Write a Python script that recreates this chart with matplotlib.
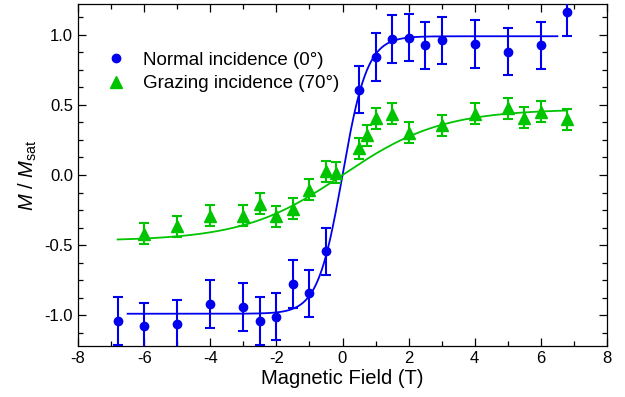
import numpy as np
import matplotlib
matplotlib.use("Agg")
import matplotlib.pyplot as plt
from matplotlib.ticker import MultipleLocator


# -----------------------------
# DATA
# -----------------------------
normal_field = [-6.8, -6, -5, -4, -3, -2.5, -2, -1.5, -1, -0.5,
                0.5, 1, 1.5, 2, 2.5, 3, 4, 5, 6, 6.8]
normal_m = [-1.04, -1.08, -1.065, -0.92, -0.94, -1.04, -1.01, -0.78, -0.845, -0.545,
            0.61, 0.84, 0.97, 0.98, 0.925, 0.96, 0.935, 0.88, 0.925, 1.165]
normal_err = [0.17] * len(normal_field)

grazing_field = [-6, -5, -4, -3, -2.5, -2, -1.5, -1, -0.5, -0.2,
                 0.5, 0.75, 1, 1.5, 2, 3, 4, 5, 5.5, 6, 6.8]
grazing_m = [-0.42, -0.365, -0.29, -0.29, -0.205, -0.295, -0.24, -0.105, 0.025, 0.015,
             0.19, 0.282, 0.405, 0.436, 0.30, 0.356, 0.436, 0.477, 0.41, 0.453, 0.398]
grazing_err = [0.075] * len(grazing_field)

# fit parameters (saturation, width) for the tanh model curves
normal_fit = (0.99, 0.75)
grazing_fit = (0.47, 3.0)
normal_fit_range = (-6.5, 6.5)
grazing_fit_range = (-6.8, 6.8)


# -----------------------------
# STYLE
# -----------------------------
plt.rcParams["font.family"] = ["Liberation Sans", "DejaVu Sans"]
plt.rcParams["mathtext.fontset"] = "custom"
plt.rcParams["mathtext.rm"] = "Liberation Sans"
plt.rcParams["mathtext.it"] = "Liberation Sans:italic"
plt.rcParams["axes.unicode_minus"] = False

blue = "#0000ee"
green = "#00c400"


# -----------------------------
# PLOT
# -----------------------------
fig = plt.figure(figsize=(6.25, 3.97), dpi=100)
ax = fig.add_axes([0.1248, 0.1285, 0.8464, 0.8614])

for rng, (a, w), col in [(normal_fit_range, normal_fit, blue),
                         (grazing_fit_range, grazing_fit, green)]:
    h = np.linspace(rng[0], rng[1], 400)
    ax.plot(h, a * np.tanh(h / w), color=col, lw=1.3, zorder=2)

ax.errorbar(normal_field, normal_m, yerr=normal_err, fmt="none",
            ecolor=blue, elinewidth=1.5, capsize=3.6, capthick=1.5, zorder=3)
ax.errorbar(grazing_field, grazing_m, yerr=grazing_err, fmt="none",
            ecolor=green, elinewidth=1.5, capsize=3.6, capthick=1.5, zorder=3)

ax.plot(normal_field, normal_m, "o", color=blue, ms=6, ls="none",
        label="Normal incidence (0°)", zorder=4)
ax.plot(grazing_field, grazing_m, "^", color=green, ms=8, ls="none",
        label="Grazing incidence (70°)", zorder=4)

ax.set_xlim(-8, 8)
ax.set_ylim(-1.22, 1.22)
ax.xaxis.set_major_locator(MultipleLocator(2))
ax.xaxis.set_minor_locator(MultipleLocator(1))
ax.yaxis.set_major_locator(MultipleLocator(0.5))
ax.yaxis.set_minor_locator(MultipleLocator(0.125))
ax.yaxis.set_major_formatter(plt.FormatStrFormatter("%.1f"))
ax.tick_params(which="both", direction="in", top=True, right=True,
               labelsize=12, width=0.9)
ax.tick_params(which="major", length=6)
ax.tick_params(which="minor", length=3.5)
for s in ax.spines.values():
    s.set_linewidth(0.9)

ax.set_xlabel("Magnetic Field (T)", fontsize=14.5, labelpad=2)
ax.set_ylabel("$M$ / $M_{\\mathrm{sat}}$", fontsize=14.5, labelpad=4)

ax.legend(loc="upper left", bbox_to_anchor=(0.023, 0.91), frameon=False,
          fontsize=13.5, handlelength=1.0, handletextpad=0.9,
          labelspacing=0.35, borderaxespad=0.5)

fig.savefig("out.png", dpi=100)
